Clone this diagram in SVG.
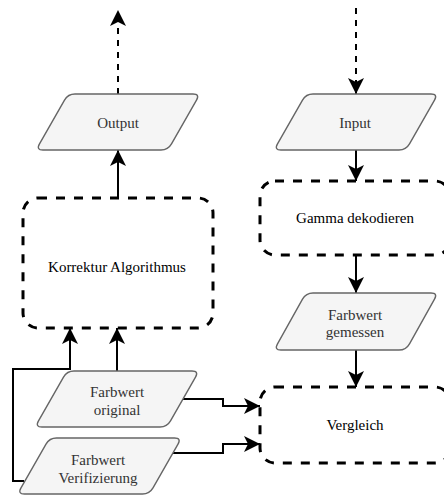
<svg xmlns="http://www.w3.org/2000/svg" width="444" height="496" viewBox="0 0 444 496">
<style>
.para{fill:#f5f5f5;stroke:#666666;stroke-width:1.4}
.box{fill:none;stroke:#000000;stroke-width:3;stroke-dasharray:9 9}
.tg{fill:#333333}
.c{fill:none;stroke:#000;stroke-width:2}
.d{stroke-dasharray:6 6}
</style>
<defs>
<path id="pg" d="M -43,-28 L 75,-28 Q 82,-28 78.5,-21.9 L 53.5,21.9 Q 50,28 43,28 L -75,28 Q -82,28 -78.5,21.9 L -53.5,-21.9 Q -50,-28 -43,-28 Z"/>
<marker id="ah" markerUnits="userSpaceOnUse" markerWidth="24" markerHeight="24" viewBox="-20 -12 24 24" refX="0" refY="0" orient="auto">
<path d="M0,0 L-16,-8 L-12,0 L-16,8 Z" fill="#000"/>
</marker>
</defs>
<g id="connectors">
<path class="c d" d="M118,94 L118,10" marker-end="url(#ah)"/>
<path class="c" d="M118,198 L118,150" marker-end="url(#ah)"/>
<path class="c d" d="M356,8 L356,94" marker-end="url(#ah)"/>
<path class="c" d="M356,150 L356,181" marker-end="url(#ah)"/>
<path class="c" d="M356,255 L356,293" marker-end="url(#ah)"/>
<path class="c" d="M356,350 L356,387" marker-end="url(#ah)"/>
<path class="c" d="M117,371 L117,328" marker-end="url(#ah)"/>
<path class="c" d="M24,481 L13,481 L13,369 L70,369 L70,328" marker-end="url(#ah)"/>
<path class="c" d="M183,399 L223,399 L223,406 L260,406" marker-end="url(#ah)"/>
<path class="c" d="M173,453 L223,453 L223,444 L260,444" marker-end="url(#ah)"/>
</g>
<g id="output" font-family="Liberation Serif, serif" font-size="15" text-anchor="middle">
<use href="#pg" class="para" transform="translate(118,122)"/>
<text class="tg" x="118" y="128">Output</text>
</g>
<g id="input" font-family="Liberation Serif, serif" font-size="15" text-anchor="middle">
<use href="#pg" class="para" transform="translate(356,122)"/>
<text class="tg" x="355" y="128">Input</text>
</g>
<g id="korrektur" font-family="Liberation Serif, serif" font-size="15" text-anchor="middle">
<rect class="box" x="23" y="198" width="190" height="130" rx="15"/>
<text x="117" y="272">Korrektur Algorithmus</text>
</g>
<g id="gamma" font-family="Liberation Serif, serif" font-size="15" text-anchor="middle">
<rect class="box" x="260" y="181" width="190" height="74" rx="15"/>
<text x="355" y="223">Gamma dekodieren</text>
</g>
<g id="gemessen" font-family="Liberation Serif, serif" font-size="15" text-anchor="middle">
<use href="#pg" class="para" transform="translate(356,321.5) scale(1,1.02)"/>
<text class="tg" x="355" y="320">Farbwert</text>
<text class="tg" x="355" y="337">gemessen</text>
</g>
<g id="vergleich" font-family="Liberation Serif, serif" font-size="15" text-anchor="middle">
<rect class="box" x="260" y="387" width="190" height="76" rx="15"/>
<text x="355" y="430">Vergleich</text>
</g>
<g id="original" font-family="Liberation Serif, serif" font-size="15" text-anchor="middle">
<use href="#pg" class="para" transform="translate(117,399)"/>
<text class="tg" x="117" y="397">Farbwert</text>
<text class="tg" x="117" y="415">original</text>
</g>
<g id="verifizierung" font-family="Liberation Serif, serif" font-size="15" text-anchor="middle">
<use href="#pg" class="para" transform="translate(99.5,466)"/>
<text class="tg" x="98" y="465">Farbwert</text>
<text class="tg" x="98" y="483">Verifizierung</text>
</g>
</svg>
